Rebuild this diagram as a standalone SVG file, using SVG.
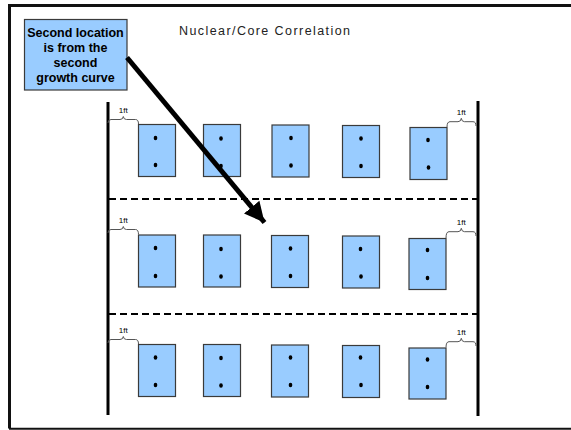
<svg xmlns="http://www.w3.org/2000/svg" width="571" height="430" viewBox="0 0 571 430">
<defs>
<style>
.frame{stroke:#111;fill:none}
.post{stroke:#000;stroke-width:3;fill:none}
.dash{stroke:#000;stroke-width:2;stroke-dasharray:7 4;fill:none}
.core{fill:#99CCFF;stroke:#3a3a3a;stroke-width:1.2}
.dot{fill:#000}
.brace{stroke:#555;stroke-width:1;fill:none}
.ft{font-family:"Liberation Sans",Arial,sans-serif;font-size:8px;fill:#000;text-anchor:middle}
.note{font-family:"Liberation Sans",Arial,sans-serif;font-size:12.5px;font-weight:bold;fill:#000;text-anchor:middle}
.title{font-family:"Liberation Sans",Arial,sans-serif;font-size:12.5px;fill:#222}
.arrow{stroke:#000;stroke-width:5;fill:none}
</style>
<marker id="ah" markerUnits="userSpaceOnUse" markerWidth="22" markerHeight="20" refX="20" refY="10" orient="auto">
<path d="M0,0 L20,10 L0,20 Z" fill="#000"/>
</marker>
</defs>
<rect width="571" height="430" fill="#fff"/>
<g id="frame">
<path class="frame" d="M571,5.5 H9.5 V428.5" stroke-width="3"/>
<line class="frame" x1="9" y1="428.8" x2="571" y2="428.8" stroke-width="2"/>
</g>
<text id="title" class="title" x="179" y="35" textLength="171" lengthAdjust="spacing">Nuclear/Core Correlation</text>
<g id="posts">
<line class="post" x1="108" y1="102" x2="108" y2="415"/>
<line class="post" x1="478" y1="101" x2="478" y2="416"/>
<line class="dash" x1="109" y1="199" x2="477" y2="199"/>
<line class="dash" x1="109" y1="314" x2="477" y2="314"/>
</g>
<g id="row1">
<g id="r1c1"><rect class="core" x="138.5" y="124.5" width="37" height="52"/><ellipse class="dot" cx="155.5" cy="138" rx="1.8" ry="2.2"/><ellipse class="dot" cx="155.5" cy="165" rx="1.8" ry="2.2"/></g>
<g id="r1c2"><rect class="core" x="203.5" y="124.5" width="37" height="52"/><ellipse class="dot" cx="221" cy="138.5" rx="1.8" ry="2.2"/><ellipse class="dot" cx="221" cy="166" rx="1.8" ry="2.2"/></g>
<g id="r1c3"><rect class="core" x="272" y="125" width="37" height="52"/><ellipse class="dot" cx="291" cy="138" rx="1.8" ry="2.2"/><ellipse class="dot" cx="291" cy="165.5" rx="1.8" ry="2.2"/></g>
<g id="r1c4"><rect class="core" x="342.5" y="125.5" width="37" height="52"/><ellipse class="dot" cx="361" cy="138.5" rx="1.8" ry="2.2"/><ellipse class="dot" cx="361" cy="166" rx="1.8" ry="2.2"/></g>
<g id="r1c5"><rect class="core" x="410" y="127.5" width="37" height="52"/><ellipse class="dot" cx="428" cy="140" rx="1.8" ry="2.2"/><ellipse class="dot" cx="428.5" cy="167.5" rx="1.8" ry="2.2"/></g>
</g>
<g id="row2">
<g id="r2c1"><rect class="core" x="138.5" y="235" width="37" height="52"/><ellipse class="dot" cx="155.5" cy="248" rx="1.8" ry="2.2"/><ellipse class="dot" cx="155.5" cy="276" rx="1.8" ry="2.2"/></g>
<g id="r2c2"><rect class="core" x="203.5" y="235" width="37" height="52"/><ellipse class="dot" cx="221" cy="249" rx="1.8" ry="2.2"/><ellipse class="dot" cx="221" cy="276.5" rx="1.8" ry="2.2"/></g>
<g id="r2c3"><rect class="core" x="271.5" y="235.5" width="37" height="52"/><ellipse class="dot" cx="290.5" cy="248.5" rx="1.8" ry="2.2"/><ellipse class="dot" cx="290.5" cy="276" rx="1.8" ry="2.2"/></g>
<g id="r2c4"><rect class="core" x="342.5" y="236" width="37" height="52"/><ellipse class="dot" cx="360.5" cy="249" rx="1.8" ry="2.2"/><ellipse class="dot" cx="361" cy="276.5" rx="1.8" ry="2.2"/></g>
<g id="r2c5"><rect class="core" x="409" y="238.5" width="37" height="51"/><ellipse class="dot" cx="427.5" cy="250" rx="1.8" ry="2.2"/><ellipse class="dot" cx="427.5" cy="278" rx="1.8" ry="2.2"/></g>
</g>
<g id="row3">
<g id="r3c1"><rect class="core" x="138.5" y="344.5" width="37" height="52"/><ellipse class="dot" cx="155.5" cy="357.5" rx="1.8" ry="2.2"/><ellipse class="dot" cx="155.5" cy="385" rx="1.8" ry="2.2"/></g>
<g id="r3c2"><rect class="core" x="203.5" y="344.5" width="37" height="52"/><ellipse class="dot" cx="221" cy="358" rx="1.8" ry="2.2"/><ellipse class="dot" cx="221" cy="385.5" rx="1.8" ry="2.2"/></g>
<g id="r3c3"><rect class="core" x="271.5" y="345" width="37" height="52"/><ellipse class="dot" cx="290.5" cy="357.5" rx="1.8" ry="2.2"/><ellipse class="dot" cx="290.5" cy="385" rx="1.8" ry="2.2"/></g>
<g id="r3c4"><rect class="core" x="342.5" y="345.5" width="37" height="52"/><ellipse class="dot" cx="360.5" cy="357.5" rx="1.8" ry="2.2"/><ellipse class="dot" cx="361" cy="385" rx="1.8" ry="2.2"/></g>
<g id="r3c5"><rect class="core" x="409" y="348" width="37" height="51"/><ellipse class="dot" cx="427.5" cy="359.5" rx="1.8" ry="2.2"/><ellipse class="dot" cx="427.5" cy="387" rx="1.8" ry="2.2"/></g>
</g>
<g id="braces">
<g id="b1l"><path class="brace" d="M108,123 Q108,119.5 111,119.5 H120 Q123,119.5 123.3,116.5 Q123.6,119.5 126.5,119.5 H135.5 Q138.5,119.5 138.5,124"/><text class="ft" x="123.3" y="113">1ft</text></g>
<g id="b1r"><path class="brace" d="M447,127 Q447,121.7 450,121.7 H458 Q461,121.7 461.3,118.3 Q461.6,121.7 464.5,121.7 H473 Q476,121.7 476,126"/><text class="ft" x="461.3" y="114.5">1ft</text></g>
<g id="b2l"><path class="brace" d="M108,233 Q108,229.5 111,229.5 H120 Q123,229.5 123.3,226.5 Q123.6,229.5 126.5,229.5 H135.5 Q138.5,229.5 138.5,234.5"/><text class="ft" x="123.3" y="223">1ft</text></g>
<g id="b2r"><path class="brace" d="M446,238 Q446,231.7 449,231.7 H458 Q461,231.7 461.3,228.3 Q461.6,231.7 464.5,231.7 H473 Q476,231.7 476,236"/><text class="ft" x="461.3" y="224.5">1ft</text></g>
<g id="b3l"><path class="brace" d="M108,343 Q108,339.5 111,339.5 H120 Q123,339.5 123.3,336.5 Q123.6,339.5 126.5,339.5 H135.5 Q138.5,339.5 138.5,344"/><text class="ft" x="123.3" y="333">1ft</text></g>
<g id="b3r"><path class="brace" d="M446,347.5 Q446,341.7 449,341.7 H458 Q461,341.7 461.3,338.3 Q461.6,341.7 464.5,341.7 H473 Q476,341.7 476,346"/><text class="ft" x="461.3" y="334.5">1ft</text></g>
</g>
<g id="note">
<rect x="24.5" y="19.5" width="102.5" height="70.5" fill="#99CCFF" stroke="#3a3a3a" stroke-width="1.2"/>
<text class="note" x="75.5" y="36.5">Second location</text>
<text class="note" x="75.5" y="51.5">is from the</text>
<text class="note" x="75.5" y="66.5">second</text>
<text class="note" x="75.5" y="81.5">growth curve</text>
</g>
<g id="connectors">
<line class="arrow" x1="127" y1="57.5" x2="264.5" y2="222.5" marker-end="url(#ah)"/>
</g>
</svg>
